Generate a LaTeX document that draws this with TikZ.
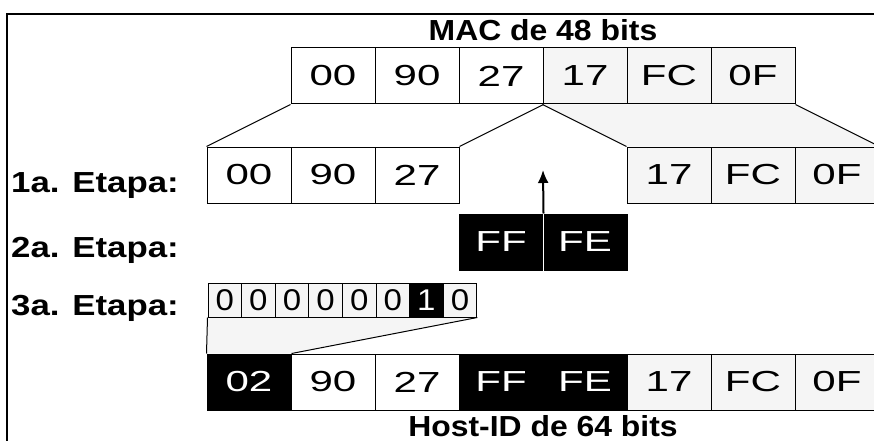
\documentclass[tikz,border=0pt]{standalone}
\usepackage{fontspec}
\setmainfont{Liberation Sans}
\newfontfamily\boxfont[FakeStretch=1.45]{Liberation Sans}
\newfontfamily\capfont[FakeStretch=1.2]{Liberation Sans}
\newfontfamily\titlefont[FakeStretch=1.1]{Liberation Sans}
\newfontfamily\bitfont[FakeStretch=1.1]{Liberation Sans}
\usetikzlibrary{arrows.meta,backgrounds}

\begin{document}
\begin{tikzpicture}[x=1pt,y=-1pt,font=\boxfont\fontsize{29}{32}\selectfont]
  \tikzstyle{byte}=[draw,line width=1pt,minimum width=84pt,minimum height=56pt,inner sep=0pt]
  \tikzstyle{speckle}=[byte,fill=black!4]
  \tikzstyle{dark}=[byte,fill=black,text=white]
  \tikzstyle{bit}=[draw,line width=1pt,minimum width=33.6pt,minimum height=34pt,inner sep=0pt,fill=black!4,font=\bitfont\fontsize{30}{32}\selectfont]
  \tikzstyle{darkbit}=[bit,fill=black,text=white]
  \tikzstyle{caption}=[font=\titlefont\fontsize{29}{32}\selectfont\bfseries,inner sep=0pt,anchor=base]
  \tikzstyle{stage}=[caption,font=\capfont\fontsize{29}{32}\selectfont\bfseries,anchor=base west]
  \useasboundingbox (0,0) rectangle (874,441);
  \draw[line width=2.5pt] (7,441) -- (7,14) -- (874,14);
  % 48 bit address
  \node[caption] (mac) at (543,41) {MAC de 48 bits};
  \node[byte] (m1) at (333,76) {00};
  \node[byte] (m2) at (417,76) {90};
  \node[byte] (m3) at (501,76) {27};
  \node[speckle] (m4) at (585,76) {17};
  \node[speckle] (m5) at (669,76) {FC};
  \node[speckle] (m6) at (753,76) {0F};
  % stage 1
  \node[stage] (s1) at (11,192) {1a. Etapa:};
  \node[byte] (a1) at (249,175) {00};
  \node[byte] (a2) at (333,175) {90};
  \node[byte] (a3) at (417,175) {27};
  \node[speckle] (b1) at (669,175) {17};
  \node[speckle] (b2) at (753,175) {FC};
  \node[speckle] (b3) at (837,175) {0F};
  \draw[line width=1pt] (m1.south west) -- (a1.north west);
  \draw[line width=1pt] (m3.south east) -- (a3.north east);
  \draw[line width=1pt] (m4.south west) -- (b1.north west);
  \draw[line width=1pt] (m6.south east) -- (b3.north east);
  % stage 2
  \node[stage] (s2) at (11,257) {2a. Etapa:};
  \node[dark] (f1) at (501,242) {FF};
  \node[dark] (f2) at (585,242) {FE};
  \draw[white,line width=1pt] (f1.north east) -- (f1.south east);
  \coordinate (tip) at (543,170);
  \draw[-{Latex[length=13pt,width=11pt]},line width=2pt] (f1.north east) -- (tip);
  % stage 3
  \node[stage] (s3) at (11,315) {3a. Etapa:};
  \node[bit] (c1) at (224.8,300) {0};
  \node[bit] (c2) at (258.4,300) {0};
  \node[bit] (c3) at (292.0,300) {0};
  \node[bit] (c4) at (325.6,300) {0};
  \node[bit] (c5) at (359.2,300) {0};
  \node[bit] (c6) at (392.8,300) {0};
  \node[darkbit] (c7) at (426.4,300) {1};
  \node[bit] (c8) at (460.0,300) {0};
  % 64 bit host id
  \node[dark] (h1) at (249,382) {02};
  \node[byte] (h2) at (333,382) {90};
  \node[byte] (h3) at (417,382) {27};
  \node[dark] (h4) at (501,382) {FF};
  \node[dark] (h5) at (585,382) {FE};
  \node[speckle] (h6) at (669,382) {17};
  \node[speckle] (h7) at (753,382) {FC};
  \node[speckle] (h8) at (837,382) {0F};
  \draw[line width=1pt] (c1.south west) -- (h1.north west);
  \draw[line width=1pt] (c8.south east) -- (h1.north east);
  \node[caption] (host) at (543,436) {Host-ID de 64 bits};
  \begin{scope}[on background layer]
    \fill[black!4] (m4.south west) -- (m6.south east) -- (b3.north east) -- (b1.north west) -- cycle;
    \fill[black!4] (c1.south west) -- (c8.south east) -- (h1.north east) -- (h1.north west) -- cycle;
  \end{scope}
\end{tikzpicture}
\end{document}
